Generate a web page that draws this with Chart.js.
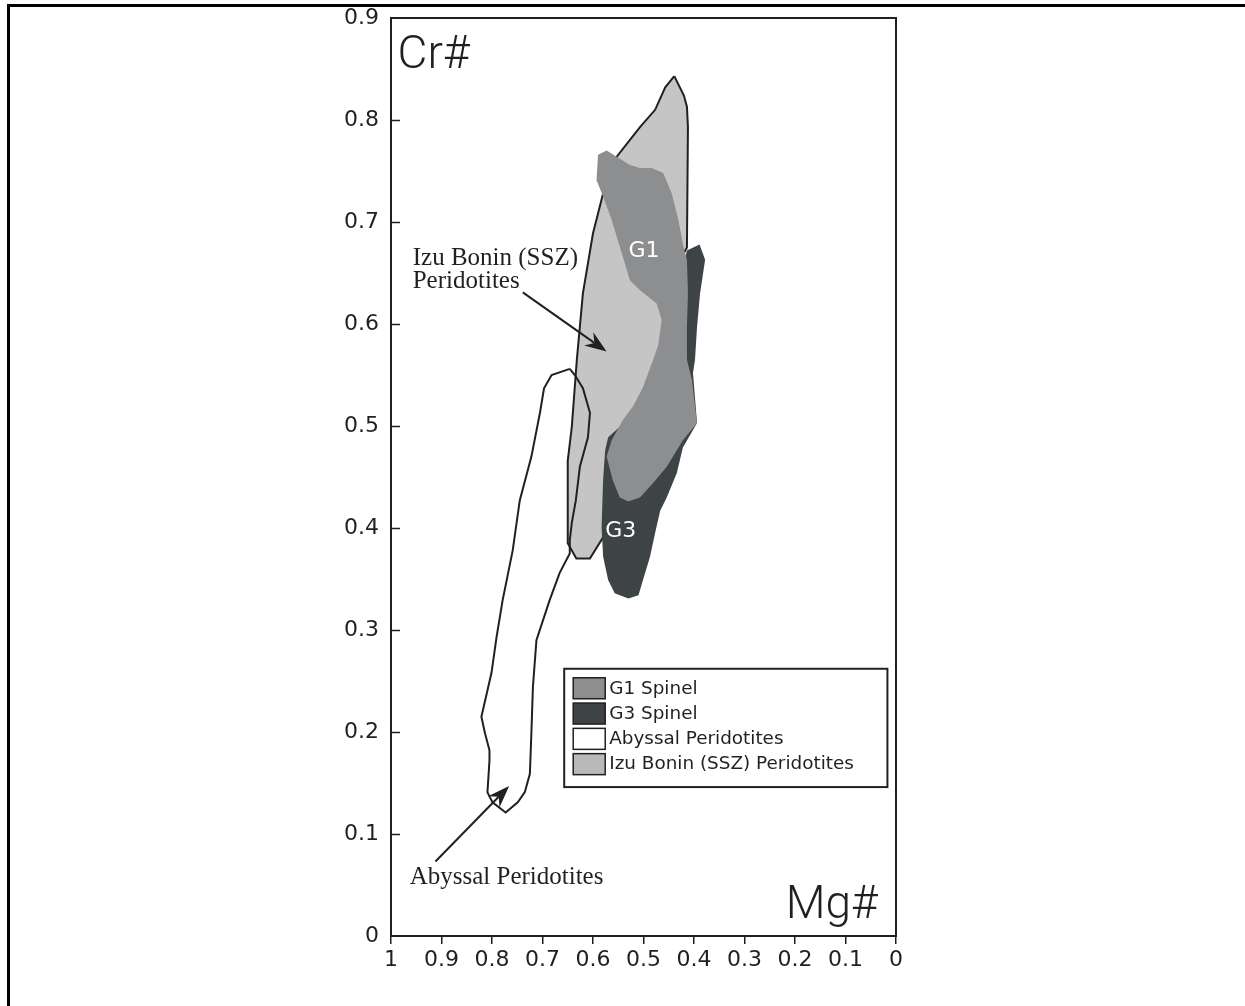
<!DOCTYPE html>
<html><head><meta charset="utf-8">
<script src="https://cdn.jsdelivr.net/npm/chart.js@4.4.0/dist/chart.umd.min.js"></script>
<style>html,body{margin:0;padding:0;background:#fff;}canvas{display:block;}</style>
</head><body>
<canvas id="c" width="1245" height="1006"></canvas>
<script>
// ---- data (Mg# on x, Cr# on y) ----
const g1X = [0.590,0.573,0.553,0.527,0.507,0.484,0.461,0.444,0.431,0.421,0.414,0.412,0.414,0.414,0.404,0.398,0.394,0.422,0.454,0.481,0.507,0.530,0.547,0.561,0.573,0.563,0.541,0.521,0.501,0.481,0.471,0.464,0.474,0.507,0.527,0.547,0.563,0.580,0.593];
const g1Y = [0.766,0.770,0.764,0.756,0.753,0.753,0.748,0.728,0.702,0.676,0.663,0.630,0.597,0.565,0.545,0.519,0.503,0.486,0.460,0.444,0.430,0.426,0.430,0.447,0.470,0.486,0.506,0.519,0.538,0.565,0.579,0.604,0.620,0.633,0.643,0.676,0.702,0.725,0.741];

const g3X = [0.414,0.389,0.378,0.388,0.394,0.398,0.402,0.394,0.422,0.434,0.454,0.467,0.477,0.487,0.501,0.510,0.530,0.557,0.570,0.580,0.583,0.580,0.576,0.570,0.543,0.487,0.437];
const g3Y = [0.672,0.678,0.663,0.630,0.597,0.565,0.552,0.503,0.479,0.454,0.430,0.417,0.395,0.372,0.349,0.334,0.331,0.336,0.349,0.372,0.401,0.447,0.476,0.489,0.501,0.525,0.623];

const abyX = [0.646,0.682,0.697,0.705,0.722,0.745,0.759,0.779,0.791,0.801,0.821,0.814,0.805,0.805,0.809,0.799,0.773,0.749,0.735,0.725,0.722,0.719,0.712,0.686,0.666,0.646,0.646,0.642,0.634,0.626,0.610,0.606,0.620,0.636];
const abyY = [0.556,0.550,0.537,0.513,0.470,0.427,0.378,0.329,0.293,0.258,0.215,0.199,0.182,0.172,0.141,0.131,0.121,0.131,0.141,0.159,0.199,0.244,0.290,0.329,0.356,0.375,0.388,0.405,0.427,0.460,0.489,0.513,0.537,0.550];

const sszX = [0.439,0.420,0.414,0.412,0.414,0.429,0.445,0.4375,0.467,0.547,0.580,0.606,0.633,0.650,0.650,0.650,0.642,0.632,0.620,0.600,0.580,0.553,0.507,0.477,0.457];
const sszY = [0.843,0.824,0.813,0.793,0.675,0.661,0.595,0.525,0.466,0.427,0.391,0.370,0.370,0.385,0.427,0.466,0.499,0.565,0.630,0.689,0.728,0.764,0.793,0.810,0.832];

const seriesNames  = ['G1 Spinel','G3 Spinel','Abyssal Peridotites','Izu Bonin (SSZ) Peridotites'];
const seriesFills  = ['#8d8e90','#3e4445','#ffffff','#c5c5c5'];
const legendSwatch = ['#8d8e90','#3e4445','#ffffff','#b9b9b9'];

const xTickLabels = ['0','0.1','0.2','0.3','0.4','0.5','0.6','0.7','0.8','0.9','1'];
const yTickLabels = ['0','0.1','0.2','0.3','0.4','0.5','0.6','0.7','0.8','0.9'];

// annotation arrows (data units)
const izuArrowFrom = [0.739,0.631], izuArrowTo = [0.573,0.573];
const abyArrowFrom = [0.912,0.073], abyArrowTo = [0.766,0.147];

function poly(xs, ys){ const p = xs.map((x,i)=>({x:x, y:ys[i]})); p.push({x:xs[0], y:ys[0]}); return p; }

const ink = '#231f20';

const deco = {
  id:'deco',
  afterDraw(chart){
    const ctx = chart.ctx, a = chart.chartArea, xs = chart.scales.x, ys = chart.scales.y;
    const px = v => xs.getPixelForValue(v), py = v => ys.getPixelForValue(v);
    ctx.save();
    // page frame (top & left)
    ctx.strokeStyle = '#000'; ctx.lineWidth = 3;
    ctx.beginPath(); ctx.moveTo(8.5,1006); ctx.lineTo(8.5,5.5); ctx.lineTo(1245,5.5); ctx.stroke();
    // plot frame
    ctx.strokeStyle = ink; ctx.lineWidth = 2;
    ctx.strokeRect(a.left, a.top, a.right-a.left, a.bottom-a.top);
    // inward y ticks
    ctx.lineWidth = 1.5;
    for (let i=1;i<yTickLabels.length-1;i++){
      const yy = Math.round(py(i/10))+0.5;
      ctx.beginPath(); ctx.moveTo(a.left, yy); ctx.lineTo(a.left+9, yy); ctx.stroke();
    }
    // arrows
    function arrow(f,t){
      const x0=px(f[0]), y0=py(f[1]), x1=px(t[0]), y1=py(t[1]);
      const dx=x1-x0, dy=y1-y0, L=Math.hypot(dx,dy), ux=dx/L, uy=dy/L, nx=-uy, ny=ux;
      const hl=22, hw=8, notch=15;
      ctx.strokeStyle = ink; ctx.lineWidth = 2;
      ctx.beginPath(); ctx.moveTo(x0,y0); ctx.lineTo(x1-ux*notch, y1-uy*notch); ctx.stroke();
      ctx.fillStyle = ink;
      ctx.beginPath();
      ctx.moveTo(x1,y1);
      ctx.lineTo(x1-ux*hl+nx*hw, y1-uy*hl+ny*hw);
      ctx.lineTo(x1-ux*notch, y1-uy*notch);
      ctx.lineTo(x1-ux*hl-nx*hw, y1-uy*hl-ny*hw);
      ctx.closePath(); ctx.fill();
    }
    arrow(izuArrowFrom, izuArrowTo);
    arrow(abyArrowFrom, abyArrowTo);
    // serif annotations
    ctx.fillStyle = ink; ctx.font = '25px "Liberation Serif", "Times New Roman", serif';
    ctx.textAlign = 'left'; ctx.textBaseline = 'alphabetic';
    ctx.fillText('Izu Bonin (SSZ)', px(0.957), py(0.658));
    ctx.fillText('Peridotites', px(0.957), py(0.635));
    ctx.fillText('Abyssal Peridotites', px(0.963), py(0.051));
    // axis titles
    ctx.font = '300 46px Roboto, "DejaVu Sans", sans-serif';
    ctx.fillText('Cr#', px(0.987), py(0.851));
    ctx.textAlign = 'right';
    ctx.fillText('Mg#', px(0.036), py(0.018));
    // group labels
    ctx.fillStyle = '#ffffff'; ctx.textAlign = 'center'; ctx.textBaseline = 'middle';
    ctx.font = '22px "DejaVu Sans", sans-serif';
    ctx.fillText('G1', px(0.499), py(0.671));
    ctx.fillText('G3', px(0.545), py(0.397));
    // legend
    const lx0 = px(0.657), lx1 = px(0.017), ly0 = py(0.262), ly1 = py(0.146);
    ctx.fillStyle = '#fff'; ctx.fillRect(lx0, ly0, lx1-lx0, ly1-ly0);
    ctx.strokeStyle = ink; ctx.lineWidth = 2; ctx.strokeRect(lx0, ly0, lx1-lx0, ly1-ly0);
    ctx.font = '18.4px "DejaVu Sans", sans-serif'; ctx.textAlign = 'left'; ctx.textBaseline = 'middle';
    const rowH = 25.3;
    seriesNames.forEach((name,i)=>{
      const top = ly0 + 9 + i*rowH;
      ctx.fillStyle = legendSwatch[i]; ctx.fillRect(lx0+9, top, 32, 21);
      ctx.strokeStyle = ink; ctx.lineWidth = 1.5; ctx.strokeRect(lx0+9, top, 32, 21);
      ctx.fillStyle = ink; ctx.fillText(name, lx0+45, top+11);
    });
    ctx.restore();
  }
};

const chart = new Chart(document.getElementById('c'), {
  type:'line',
  data:{
    datasets:[
      {label:seriesNames[0], data:poly(g1X,g1Y), backgroundColor:seriesFills[0], borderWidth:0, borderColor:'rgba(0,0,0,0)', fill:'shape', order:0},
      {label:seriesNames[1], data:poly(g3X,g3Y), backgroundColor:seriesFills[1], borderWidth:0, borderColor:'rgba(0,0,0,0)', fill:'shape', order:1},
      {label:seriesNames[2], data:poly(abyX,abyY), backgroundColor:'rgba(0,0,0,0)', borderWidth:2, borderColor:ink, fill:false, order:2},
      {label:seriesNames[3], data:poly(sszX,sszY), backgroundColor:seriesFills[3], borderWidth:2, borderColor:ink, fill:'shape', order:3}
    ]
  },
  options:{
    responsive:false, animation:false, devicePixelRatio:1,
    layout:{padding:{top:18, right:349, left:0, bottom:0}},
    elements:{point:{radius:0, hoverRadius:0}, line:{tension:0, borderJoinStyle:'miter'}},
    plugins:{legend:{display:false}, tooltip:{enabled:false}},
    events:[],
    scales:{
      x:{type:'linear', min:0, max:1, reverse:true,
         afterFit:s=>{s.height=70;},
         border:{display:false},
         grid:{display:true, drawOnChartArea:false, drawTicks:true, tickLength:8, color:ink, lineWidth:1.5},
         ticks:{stepSize:0.1, autoSkip:false, maxRotation:0, padding:3, color:ink,
                font:{family:'"DejaVu Sans", sans-serif', size:22},
                callback:v=>xTickLabels[Math.round(v*10)]}},
      y:{type:'linear', min:0, max:0.9,
         afterFit:s=>{s.width=391;},
         border:{display:false},
         grid:{display:false},
         ticks:{stepSize:0.1, padding:4, color:ink,
                font:{family:'"DejaVu Sans", sans-serif', size:22},
                callback:v=>yTickLabels[Math.round(v*10)]}}
    }
  },
  plugins:[deco]
});
</script>
</body></html>
